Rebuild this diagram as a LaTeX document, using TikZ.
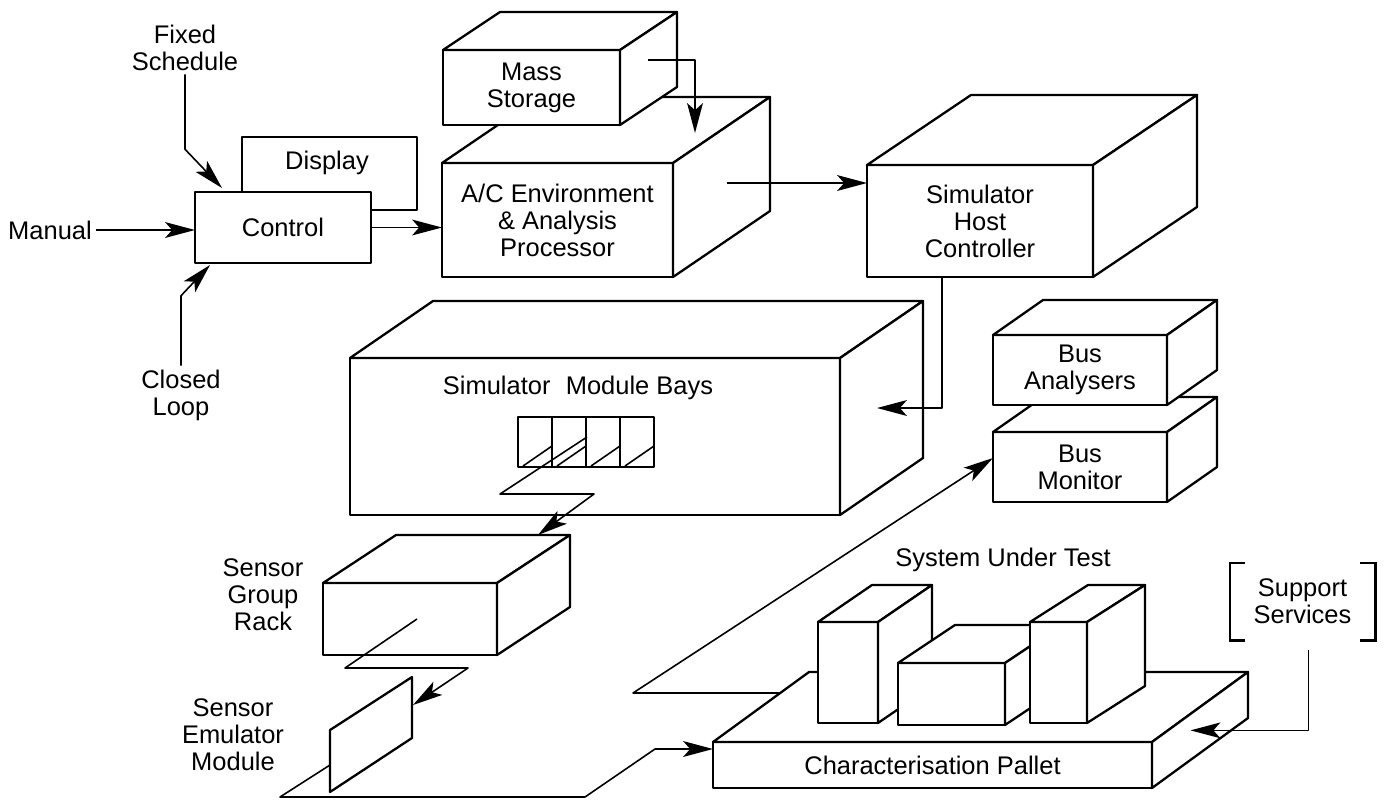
\documentclass[tikz,border=0pt]{standalone}
\usepackage{fontspec}
\setmainfont{Liberation Sans}
\usepackage{tikz}
\usetikzlibrary{arrows.meta,calc}
\usetikzlibrary{positioning}
\newcommand{\pxu}{0.02}
% top and right faces of a block, #1 = front node, (#2,#3) = depth
\newcommand{\boxdepth}[3]{%
	\draw[face] (#1.north west) -- ++(#2,#3) -- ($(#1.north east)+(#2,#3)$) -- (#1.north east) -- cycle;
	\draw[face] (#1.north east) -- ($(#1.north east)+(#2,#3)$) -- ($(#1.south east)+(#2,#3)$) -- (#1.south east) -- cycle;}

\begin{document}
\begin{tikzpicture}[x=\pxu cm,y=-\pxu cm,
	face/.style={draw,fill=white,line width=1.3pt,line join=round},
	front/.style 2 args={face,minimum width={#1*\pxu cm},minimum height={#2*\pxu cm},
		inner sep=0pt,outer sep=0pt,align=center},
	rim/.style={draw,line width=1.3pt},
	lbl/.style={align=center,inner sep=2pt},
	wire/.style={line width=0.9pt,line join=round},
	link/.style={wire,-{Stealth[length=17pt,width=9pt,inset=4pt]}},
	every node/.style={font=\fontsize{14.5pt}{15.4pt}\selectfont}]
	
	\useasboundingbox (0,0) rectangle (1389,802);
	
	% inputs
	\node[lbl] (fixed) at (185,47.5) {Fixed\\Schedule};
	\node[lbl] (manual) at (50,230) {Manual};
	\node[lbl] (closed) at (181,395) {Closed\\Loop};
	
	\node[front={175}{73}] (disp) at (329.5,173.5) {};
	\node (disptxt) at (327,163) {Display};
	\node[front={176}{71}] (ctrl) at (283,227.5) {Control};
	
	\node[front={231}{114}] (ac) at (557.5,220) {A/C Environment\\\& Analysis\\Processor};
	\boxdepth{ac}{97}{-66}
	\node[front={177}{75}] (mass) at (531.5,87.5) {Mass\\Storage};
	\boxdepth{mass}{57}{-38}
	
	\node[front={226}{112}] (host) at (980,221) {Simulator\\Host\\Controller};
	\boxdepth{host}{104}{-70}
	
	% module bays
	\node[front={490}{157}] (bays) at (595,436.5) {};
	\boxdepth{bays}{83}{-57}
	\node (baystitle) at (578,388) {Simulator\hspace{0.6em}Module Bays};
	\foreach \i in {0,...,3}{%
		\draw[face,line width=1.1pt] ({518+34*\i},417) rectangle ++(34,50);
		\draw[wire] ({523+34*\i},466) -- ({552+34*\i},446);}
	
	% bus units
	\node[front={174}{70}] (busm) at (1080,467) {Bus\\Monitor};
	\boxdepth{busm}{50}{-35}
	\node[front={174}{70}] (busa) at (1080,370) {Bus\\Analysers};
	\boxdepth{busa}{50}{-35}
	
	% sensor chain
	\node[front={174}{72}] (rack) at (410,619) {};
	\boxdepth{rack}{73}{-48}
	\node[lbl] (racklbl) at (263,594.5) {Sensor\\Group\\Rack};
	\draw[face] (330,730) -- (412,677) -- (412,738) -- (330,792) -- cycle;
	\coordinate (card) at (330,765);
	\node[lbl] (cardlbl) at (233,735) {Sensor\\Emulator\\Module};
	\draw[link] ($(rack.north west)+(94,36)$) -- ++(-72,49) -- ++(123,0) -- (413,705);
	\draw[link] (587,437) -- (500,494) -- (594,494) -- ($(rack.north west)+(215,-48)$);
	
	% pallet and system under test
	\node[front={439}{46}] (pallet) at (932.5,765) {Characterisation Pallet};
	\boxdepth{pallet}{96}{-70}
	\coordinate (padedge) at ($(pallet.north west)+(68,-49)$);
	\draw[link] (padedge) -- (633,693) -- ($(busm.west)+(0,-9)$);
	\node[front={60}{101}] (sut1) at (848,672.5) {};
	\boxdepth{sut1}{54}{-37}
	\node[front={107}{62}] (sut2) at (951.5,694) {};
	\boxdepth{sut2}{57}{-38}
	\node[front={57}{101}] (sut3) at (1058.5,672.5) {};
	\boxdepth{sut3}{58}{-37}
	\node (sutlbl) at (1003,560) {System Under Test};
	
	\node[minimum width={145*\pxu cm},minimum height={77*\pxu cm},inner sep=0pt,align=center] (support) at (1302.5,601.5) {Support\\Services};
	\draw[rim] ($(support.north west)+(15,0)$) -- (support.north west) -- (support.south west) -- ++(15,0);
	\draw[rim] ($(support.north east)+(-15,0)$) -- (support.north east) -- (support.south east) -- ++(-15,0);
	
	% connectors
	\draw[link] (manual.east) -- (manual.east -| ctrl.west);
	\draw[link] (fixed.south) -- ++(0,75) -- ($(ctrl.north west)+(27,-4)$);
	\draw[link] (closed.north) -- ++(0,-70) -- ($(ctrl.south west)+(15,2)$);
	\draw[link] (ctrl.east) -- (ctrl.east -| ac.west);
	\draw[link] ($(mass.north east)+(28,10)$) -- ++(47,0) -- ++(0,73);
	\coordinate (acout) at ($(ac.east)+(54,-37)$);
	\draw[link] (acout) -- (acout -| host.west);
	\draw[link] ($(host.south west)+(75,0)$) -- ++(0,131) -- ++(-65,0);
	\draw[link] (card) -- (280,797) -- (585,797) -- (655,749) -- ($(pallet.north west)+(0,7)$);
	\draw[link] ($(support.south)+(6,10)$) -- ++(0,80) -- ++(-118,0);
	
\end{tikzpicture}
\end{document}
